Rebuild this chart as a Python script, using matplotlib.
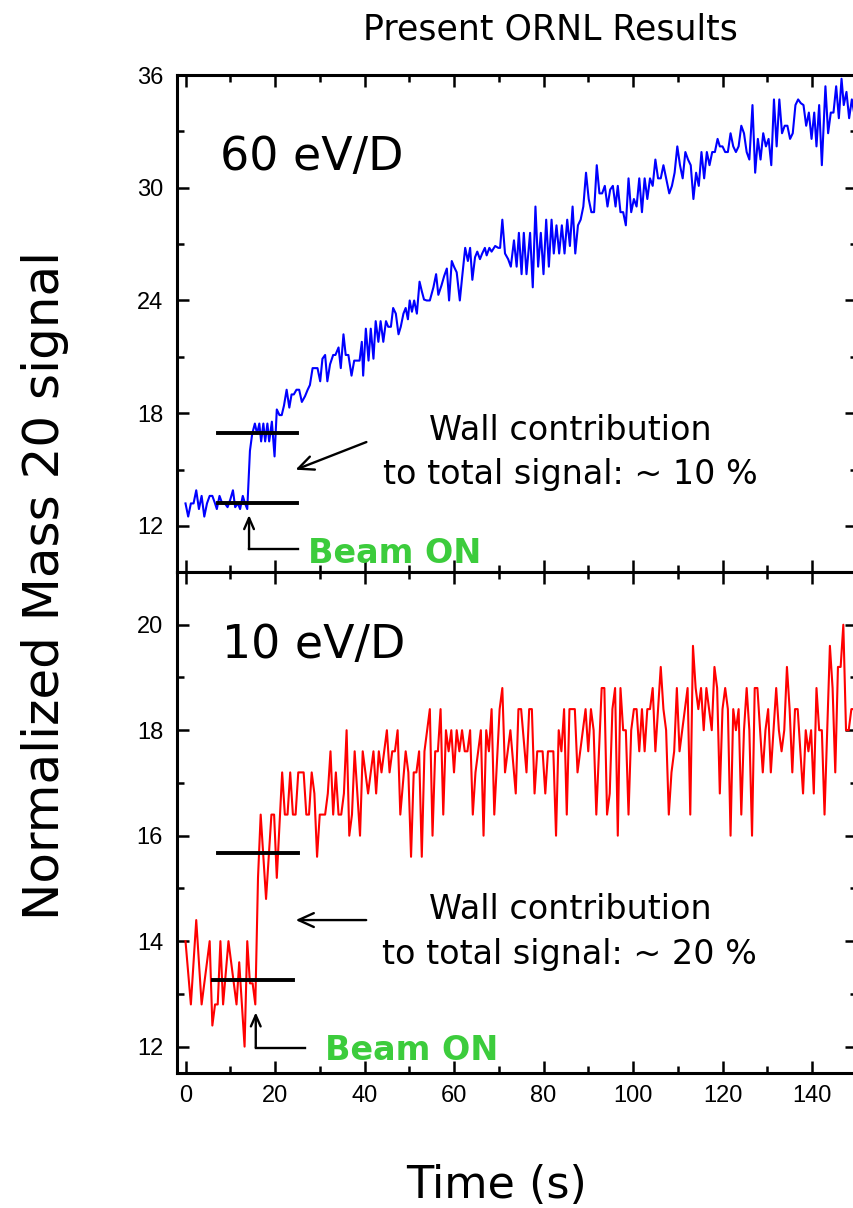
import matplotlib
matplotlib.use("Agg")
import matplotlib.pyplot as plt
from matplotlib import font_manager
from matplotlib.ticker import MultipleLocator

# 60 eV/D run: time (s) and normalized mass 20 signal
t_60 = [0.0, 0.6, 1.2, 1.8, 2.4, 3.0, 3.6, 4.2, 4.8, 5.4, 6.0, 6.6, 7.0, 7.6, 8.2,
        8.8, 9.4, 10.0, 10.6, 11.1, 11.7, 12.2, 12.8, 13.3, 13.8, 14.4, 14.9, 15.5,
        16.0, 16.5, 16.9, 17.4, 17.8, 18.3, 18.7, 19.3, 19.9, 20.4, 21.0, 21.5, 22.0,
        22.6, 23.2, 23.7, 24.2, 24.8, 25.4, 26.0, 26.7, 27.3, 27.8, 28.4, 29.0, 29.5,
        30.1, 30.6, 31.2, 31.7, 32.3, 33.0, 33.5, 34.2, 34.7, 35.3, 35.8, 36.4, 37.1,
        37.7, 38.3, 38.9, 39.4, 39.7, 40.3, 40.9, 41.4, 42.0, 42.5, 43.1, 43.6, 44.2,
        44.8, 45.3, 45.9, 46.4, 47.0, 47.6, 48.1, 48.7, 49.2, 49.7, 50.1, 50.6, 51.1,
        51.7, 52.3, 52.8, 53.3, 53.9, 54.6, 55.4, 56.0, 56.5, 57.2, 57.8, 58.4, 58.9,
        59.5, 60.0, 60.6, 61.3, 61.8, 62.5, 63.1, 63.6, 64.1, 64.7, 65.2, 65.8, 66.3,
        66.9, 67.3, 67.9, 68.4, 69.2, 69.9, 70.3, 70.8, 71.4, 72.1, 72.7, 73.4, 74.0,
        74.5, 75.1, 75.6, 76.2, 77.0, 77.6, 78.2, 78.8, 79.4, 80.0, 80.6, 81.2, 81.8,
        82.3, 82.9, 83.5, 84.1, 84.7, 85.3, 85.9, 86.5, 87.1, 87.7, 88.3, 88.9, 89.5,
        90.1, 90.7, 91.3, 91.9, 92.5, 93.1, 93.7, 94.3, 94.9, 95.5, 96.1, 96.6, 97.2,
        97.8, 98.4, 99.0, 99.6, 100.2, 100.8, 101.4, 102.0, 102.6, 103.2, 103.8,
        104.4, 105.0, 105.6, 106.2, 106.8, 107.4, 108.1, 108.7, 109.3, 109.9, 110.5,
        111.1, 111.7, 112.3, 112.9, 113.5, 114.1, 114.7, 115.3, 115.9, 116.5, 117.1,
        117.7, 118.3, 118.9, 119.4, 120.0, 120.6, 121.2, 121.8, 122.4, 123.0, 123.6,
        124.2, 124.8, 125.4, 126.0, 126.7, 127.3, 127.9, 128.5, 129.1, 129.7, 130.3,
        130.9, 131.5, 132.1, 132.7, 133.3, 133.9, 134.5, 135.1, 135.7, 136.3, 136.9,
        137.5, 138.1, 138.7, 139.3, 139.9, 140.5, 141.0, 141.6, 142.2, 143.0, 143.6,
        144.2, 144.8, 145.4, 146.0, 146.6, 147.1, 147.7, 148.3, 148.9, 149.4]
sig_60 = [13.2, 12.5, 13.2, 13.2, 13.9, 12.9, 13.6, 12.5, 13.2, 13.6, 13.6, 13.2, 12.9,
          13.6, 13.2, 13.2, 13.0, 13.4, 13.9, 13.0, 13.2, 12.9, 13.6, 13.2, 12.9, 16.0,
          16.9, 17.45, 16.9, 17.45, 16.5, 17.45, 16.5, 17.45, 16.5, 17.55, 15.7, 18.2,
          17.9, 17.9, 18.4, 19.25, 18.3, 19.0, 19.0, 19.25, 19.25, 18.6, 18.9, 19.25,
          19.5, 20.4, 20.4, 20.4, 19.7, 20.9, 21.1, 19.7, 20.6, 21.1, 21.1, 21.5, 20.4,
          22.2, 21.1, 21.1, 20.0, 20.8, 20.8, 20.8, 21.8, 20.0, 22.5, 20.8, 22.5, 20.9,
          22.9, 21.8, 22.9, 21.8, 22.9, 22.6, 22.6, 23.6, 23.3, 22.2, 22.6, 23.3, 23.6,
          23.0, 24.0, 23.4, 24.0, 23.3, 25.0, 24.5, 24.05, 24.0, 24.0, 24.7, 25.4, 24.3,
          24.8, 25.3, 25.7, 24.0, 26.1, 25.8, 25.5, 24.0, 25.2, 26.8, 26.1, 26.8, 25.1,
          26.3, 26.6, 26.2, 26.5, 26.8, 26.4, 26.8, 26.6, 26.9, 26.8, 26.8, 28.3, 26.5,
          26.2, 25.8, 27.2, 25.8, 27.6, 25.4, 27.6, 25.4, 27.6, 24.7, 29.0, 25.8, 27.6,
          25.4, 28.3, 25.8, 28.3, 26.5, 28.0, 26.5, 28.0, 26.5, 28.3, 26.9, 29.0, 26.5,
          28.0, 28.3, 29.0, 30.8, 29.4, 28.7, 28.7, 31.2, 29.7, 29.7, 30.1, 29.0, 29.9,
          30.1, 29.0, 30.1, 28.7, 28.7, 28.0, 30.5, 28.7, 29.4, 29.0, 30.5, 28.7, 30.5,
          29.4, 30.5, 30.1, 31.5, 30.5, 30.5, 31.2, 30.5, 29.7, 30.1, 30.8, 32.2, 31.2,
          30.5, 31.9, 31.5, 31.2, 29.4, 30.8, 30.1, 31.9, 30.5, 31.9, 31.2, 31.9, 31.9,
          32.6, 32.2, 32.2, 31.9, 31.9, 32.9, 32.2, 31.9, 32.2, 33.3, 32.9, 31.9, 31.5,
          34.4, 30.8, 32.6, 31.5, 32.9, 32.2, 32.6, 31.2, 34.7, 32.2, 34.7, 32.9, 33.3,
          33.3, 32.6, 32.9, 34.4, 34.7, 34.5, 34.4, 33.3, 34.0, 32.6, 34.0, 32.2, 34.4,
          31.2, 35.4, 32.9, 34.0, 34.0, 35.4, 33.7, 35.8, 34.4, 35.1, 33.7, 34.7, 34.0]

# 10 eV/D run
t_10 = [0.0, 1.2, 2.4, 3.6, 5.4, 6.0, 6.6, 7.2, 7.8, 8.4, 9.6, 10.8, 11.4, 12.0, 12.6,
        13.2, 13.8, 14.4, 15.0, 15.6, 16.2, 16.8, 18.0, 19.2, 19.8, 20.4, 21.6, 22.2,
        22.8, 23.4, 24.0, 24.6, 25.2, 26.4, 27.0, 27.6, 28.2, 28.8, 29.4, 30.0, 31.2,
        31.8, 32.4, 33.0, 33.6, 34.2, 34.8, 35.4, 36.0, 36.6, 37.2, 37.8, 38.4, 39.0,
        39.6, 40.8, 42.0, 42.6, 43.2, 43.8, 45.0, 45.6, 46.2, 46.8, 47.4, 48.0, 49.2,
        49.8, 50.4, 51.0, 51.6, 52.2, 52.8, 53.4, 54.6, 55.2, 55.8, 56.4, 57.0, 57.6,
        58.2, 58.8, 59.4, 60.0, 60.6, 61.2, 61.8, 62.4, 63.0, 63.6, 64.2, 64.8, 66.0,
        66.6, 67.2, 67.8, 68.4, 69.0, 70.2, 70.8, 71.4, 72.6, 73.8, 74.4, 75.0, 76.2,
        76.8, 77.4, 78.0, 78.6, 79.8, 80.4, 81.0, 82.2, 82.8, 83.4, 84.0, 84.6, 85.2,
        85.8, 87.0, 87.6, 89.4, 90.0, 90.6, 91.2, 91.8, 93.0, 93.6, 94.2, 94.8, 95.4,
        96.0, 96.6, 97.2, 97.8, 98.4, 99.0, 99.6, 100.2, 100.8, 101.4, 102.0, 102.6,
        103.2, 103.8, 104.4, 105.0, 106.2, 106.8, 107.4, 108.0, 108.6, 109.2, 109.8,
        110.4, 111.0, 112.2, 112.8, 113.4, 114.0, 114.6, 115.2, 115.8, 116.4, 117.0,
        117.6, 118.2, 118.8, 119.4, 120.0, 120.6, 121.2, 121.8, 122.4, 123.0, 123.6,
        124.2, 124.8, 125.4, 126.0, 126.6, 127.2, 127.8, 128.4, 129.0, 129.6, 130.2,
        130.8, 131.4, 132.0, 132.6, 133.2, 133.8, 134.4, 135.0, 135.6, 136.2, 136.8,
        137.4, 138.0, 138.6, 139.2, 139.8, 140.4, 141.0, 141.6, 142.2, 142.8, 143.4,
        144.0, 144.6, 145.2, 145.8, 146.4, 147.0, 147.6, 148.2, 148.8, 149.4]
sig_10 = [14.0, 12.8, 14.4, 12.8, 14.0, 12.4, 12.8, 12.8, 14.0, 12.8, 14.0, 13.2, 12.8,
          13.6, 12.8, 12.0, 14.0, 13.2, 13.2, 12.8, 15.2, 16.4, 14.8, 16.4, 16.4, 15.2,
          17.2, 16.4, 16.4, 17.2, 16.4, 16.4, 17.2, 17.2, 16.4, 16.4, 17.2, 16.8, 15.6,
          16.4, 16.4, 16.8, 17.6, 16.4, 17.2, 16.4, 16.4, 16.8, 18.0, 16.0, 16.4, 17.6,
          16.8, 16.0, 17.6, 16.8, 17.6, 16.8, 17.6, 17.2, 18.0, 17.2, 17.6, 17.6, 18.0,
          16.4, 17.6, 17.2, 15.6, 17.2, 17.2, 17.6, 15.6, 17.6, 18.4, 16.0, 17.6, 17.6,
          18.4, 16.4, 18.0, 17.6, 18.0, 17.2, 18.0, 17.6, 18.0, 17.6, 17.6, 18.0, 16.4,
          17.2, 18.0, 16.0, 18.0, 17.6, 18.4, 16.4, 18.4, 18.8, 17.2, 18.0, 16.8, 18.4,
          18.4, 17.2, 18.4, 18.4, 16.8, 17.6, 17.6, 16.8, 17.6, 17.6, 16.0, 18.0, 17.6,
          18.4, 16.4, 18.4, 18.4, 17.2, 18.4, 17.6, 18.4, 18.0, 16.4, 18.8, 18.8, 16.4,
          16.8, 18.4, 18.8, 16.0, 18.8, 18.0, 18.0, 16.4, 18.0, 18.4, 18.4, 17.6, 18.4,
          17.6, 18.4, 18.4, 18.8, 17.6, 19.2, 18.4, 18.0, 16.4, 17.2, 17.6, 18.8, 17.6,
          18.0, 18.8, 16.4, 19.6, 18.8, 18.4, 18.8, 18.0, 18.8, 18.4, 18.0, 19.2, 18.8,
          16.8, 18.4, 18.8, 18.4, 16.0, 18.4, 18.0, 18.4, 16.4, 18.0, 18.8, 18.0, 16.0,
          18.8, 18.8, 18.0, 17.2, 18.0, 18.4, 17.2, 18.0, 18.8, 18.0, 17.6, 18.0, 19.2,
          18.4, 17.2, 18.4, 18.4, 17.6, 16.8, 18.0, 17.6, 18.0, 16.8, 18.8, 18.0, 18.0,
          16.4, 18.0, 19.6, 18.8, 17.2, 19.2, 19.2, 20.0, 18.0, 18.0, 18.4, 18.4]

BEAM_GREEN = "#3ccc3c"

plt.rcParams["font.family"] = ["DejaVu Sans"]
names = {f.name for f in font_manager.fontManager.ttflist}
tick_font = "Liberation Sans Narrow" if "Liberation Sans Narrow" in names else "Liberation Sans"

W, H = 854, 1208
fig = plt.figure(figsize=(W / 100, H / 100), dpi=100)
left = 177 / W
width = (856.75 - 177) / W
ax1 = fig.add_axes([left, (H - 572) / H, width, (572 - 75) / H])
ax2 = fig.add_axes([left, (H - 1073) / H, width, (1073 - 572) / H])

ax1.plot(t_60, sig_60, color="#0000ff", lw=1.5)
ax2.plot(t_10, sig_10, color="#ff0000", lw=1.5)

ax1.set_ylim(9.55, 36)
ax2.set_ylim(11.5, 21.0)
ax1.yaxis.set_major_locator(MultipleLocator(6))
ax1.yaxis.set_minor_locator(MultipleLocator(3))
ax2.yaxis.set_major_locator(MultipleLocator(2))
ax2.yaxis.set_minor_locator(MultipleLocator(1))

for ax in (ax1, ax2):
    ax.set_xlim(-1.9, 150)
    ax.xaxis.set_major_locator(MultipleLocator(20))
    ax.xaxis.set_minor_locator(MultipleLocator(10))
    ax.tick_params(which="both", direction="in", top=True, right=True, width=1.8)
    ax.tick_params(which="major", length=8.5)
    ax.tick_params(which="minor", length=5)
    ax.tick_params(axis="y", pad=10)
    ax.tick_params(axis="x", pad=9)
    for sp in ax.spines.values():
        sp.set_linewidth(2.2)
    for lab in ax.get_xticklabels() + ax.get_yticklabels():
        lab.set_fontfamily(tick_font)
        lab.set_fontsize(17)
ax1.tick_params(axis="x", labelbottom=False)

# 60 eV/D annotations
ax1.text(7.7, 30.94, "60 eV/D", fontsize=33)
ax1.plot([7.3, 24.9], [16.95, 16.95], color="black", lw=2.8)
ax1.plot([7.3, 24.9], [13.22, 13.22], color="black", lw=2.8)
ax1.annotate("", xy=(24.0, 14.94), xytext=(41.0, 16.52),
             arrowprops=dict(arrowstyle="->,head_length=1.1,head_width=0.5", color="black", lw=1.7))
ax1.text(85.9, 16.57, "Wall contribution", fontsize=24, ha="center", va="baseline")
ax1.text(85.9, 14.23, "to total signal: ~ 10 %", fontsize=24, ha="center", va="baseline")
ax1.plot([25.1, 14.2], [10.77, 10.77], color="black", lw=1.7)
ax1.annotate("", xy=(14.2, 12.58), xytext=(14.2, 10.77),
             arrowprops=dict(arrowstyle="->,head_length=0.8,head_width=0.35", color="black", lw=1.7,
                             shrinkA=0, shrinkB=0))
ax1.text(27.4, 10.03, "Beam ON", fontsize=24, fontweight="bold", color=BEAM_GREEN, va="baseline")

# 10 eV/D annotations
ax2.text(8.2, 19.37, "10 eV/D", fontsize=33)
ax2.plot([7.3, 25.1], [15.67, 15.67], color="black", lw=2.8)
ax2.plot([6.1, 24.0], [13.26, 13.26], color="black", lw=2.8)
ax2.annotate("", xy=(24.0, 14.40), xytext=(41.0, 14.40),
             arrowprops=dict(arrowstyle="->,head_length=1.1,head_width=0.5", color="black", lw=1.7))
ax2.text(85.9, 14.42, "Wall contribution", fontsize=24, ha="center", va="baseline")
ax2.text(85.9, 13.56, "to total signal: ~ 20 %", fontsize=24, ha="center", va="baseline")
ax2.plot([26.7, 15.7], [11.98, 11.98], color="black", lw=1.7)
ax2.annotate("", xy=(15.7, 12.65), xytext=(15.7, 11.98),
             arrowprops=dict(arrowstyle="->,head_length=0.8,head_width=0.35", color="black", lw=1.7,
                             shrinkA=0, shrinkB=0))
ax2.text(31.2, 11.75, "Beam ON", fontsize=24, fontweight="bold", color=BEAM_GREEN, va="baseline")

fig.text(550 / W, 1 - 30 / H, "Present ORNL Results", fontsize=25, ha="center", va="center")
fig.text(45 / W, 1 - 585 / H, "Normalized Mass 20 signal", fontsize=36, rotation=90,
         ha="center", va="center")
fig.text(497 / W, 1 - 1185 / H, "Time (s)", fontsize=32, ha="center", va="center")

fig.savefig("out.png", dpi=100)
